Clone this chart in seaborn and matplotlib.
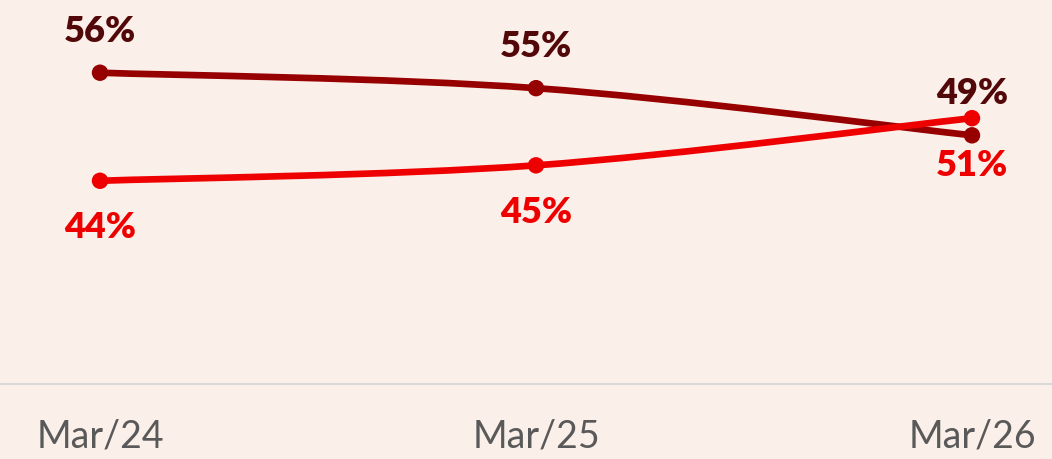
import pandas as pd
import matplotlib.pyplot as plt
import seaborn as sns
from matplotlib.path import Path
from matplotlib.patches import PathPatch

# values (y axis runs 20%..60%)
periods = ['Mar/24', 'Mar/25', 'Mar/26']
dark_vals = [56.3, 54.5, 49.0]
red_vals = [43.7, 45.5, 51.0]
dark_labels = ['56%', '55%', '49%']
red_labels = ['44%', '45%', '51%']

bg = '#FAEFE9'
dark_col = '#960000'
dark_txt = '#520808'
red_col = '#EE0000'

sns.set_theme(style='white')
plt.rcParams['font.family'] = ['Lato', 'DejaVu Sans']

df = pd.DataFrame({
    'x': list(range(len(periods))) * 2,
    'value': dark_vals + red_vals,
    'series': ['dark'] * 3 + ['red'] * 3,
})

fig = plt.figure(figsize=(10.52, 4.59), dpi=100, facecolor=bg)
ax = fig.add_axes([0, 75 / 459, 1, 343 / 459])
ax.set_facecolor(bg)


def smooth_path(xs, ys):
    # excel-style smoothed line: bezier segments with catmull-rom handles
    pts = list(zip(xs, ys))
    verts = [pts[0]]
    codes = [Path.MOVETO]
    n = len(pts)
    for i in range(n - 1):
        p0 = pts[max(i - 1, 0)]
        p1 = pts[i]
        p2 = pts[i + 1]
        p3 = pts[min(i + 2, n - 1)]
        c1 = (p1[0] + (p2[0] - p0[0]) / 6, p1[1] + (p2[1] - p0[1]) / 6)
        c2 = (p2[0] - (p3[0] - p1[0]) / 6, p2[1] - (p3[1] - p1[1]) / 6)
        verts += [c1, c2, p2]
        codes += [Path.CURVE4] * 3
    return Path(verts, codes)


xs = list(range(len(periods)))
for vals, col in [(dark_vals, dark_col), (red_vals, red_col)]:
    ax.add_patch(PathPatch(smooth_path(xs, vals), facecolor='none',
                           edgecolor=col, lw=4.8, capstyle='round', zorder=2))

sns.scatterplot(data=df, x='x', y='value', hue='series',
                palette={'dark': dark_col, 'red': red_col},
                s=140, linewidth=0, legend=False, ax=ax, zorder=3)

for i, (v, lab) in enumerate(zip(dark_vals, dark_labels)):
    ax.annotate(lab, (i, v), xytext=(0, 30), textcoords='offset points',
                ha='center', va='center', fontsize=26, fontweight='heavy',
                color=dark_txt)
for i, (v, lab) in enumerate(zip(red_vals, red_labels)):
    ax.annotate(lab, (i, v), xytext=(0, -34), textcoords='offset points',
                ha='center', va='center', fontsize=26, fontweight='heavy',
                color=red_col)

ax.set_xlim(-100 / 436, 2 + 80 / 436)
ax.set_ylim(20, 60)
ax.set_xticks(xs)
ax.set_xticklabels(periods, fontsize=27, color='#595959')
ax.set_yticks([])
ax.set_xlabel('')
ax.set_ylabel('')
ax.tick_params(axis='x', length=0, pad=25)
for side in ['top', 'left', 'right']:
    ax.spines[side].set_visible(False)
ax.spines['bottom'].set_color('#D9D9D9')
ax.spines['bottom'].set_linewidth(1.5)

fig.savefig('out.png', dpi=100, facecolor=bg)
